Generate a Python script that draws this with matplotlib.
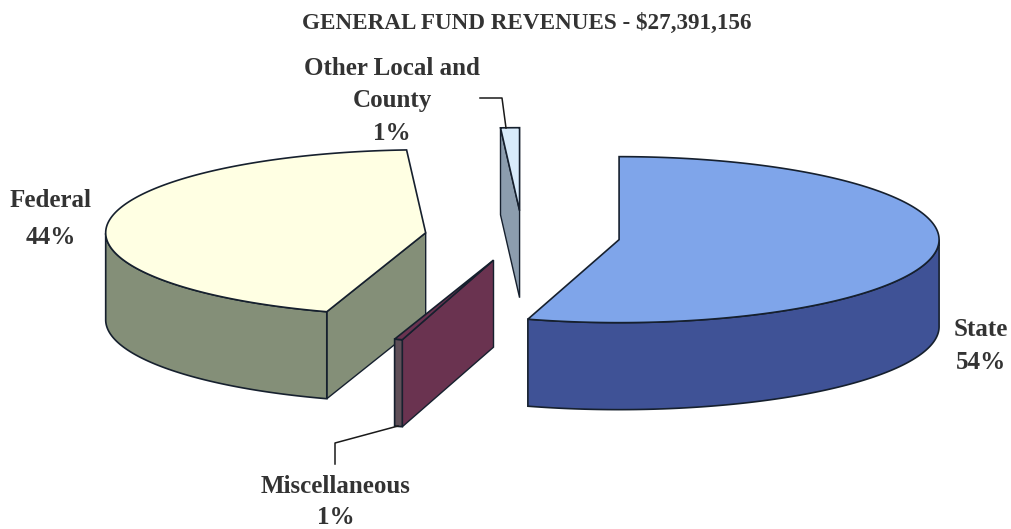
import numpy as np
import matplotlib.pyplot as plt
from matplotlib.patches import Polygon

plt.rcParams['font.family'] = ['Liberation Serif', 'DejaVu Serif']

# slices, clockwise from the top. shares estimated, labels as printed
names = ['State', 'Miscellaneous', 'Federal', 'Other Local and County']
shares = [54.6, 0.4, 44.05, 0.95]
pct_labels = ['54%', '1%', '44%', '1%']

top_colors = ['#7fa5ea', '#6a3350', '#ffffe3', '#d8ebfb']
wall_colors = ['#3f5296', '#5f4f58', '#848f78', '#8c9dae']
side_colors = ['#3f5296', '#6a3350', '#848f78', '#8c9dae']

# pie geometry in pixels
cx, cy = 522.5, 236
rx, ry = 320, 83
depth = 87
explode = 0.305
edge = '#16202e'


def ell(t, x0, y0):
    return np.column_stack([x0 + rx * np.cos(t), y0 - ry * np.sin(t)])


def draw_slice(ax, t1, t2, top, wall, side):
    # t1 > t2, radians, going clockwise
    mid = (t1 + t2) / 2
    x0 = cx + explode * rx * np.cos(mid)
    y0 = cy - explode * ry * np.sin(mid)
    down = np.array([0, depth])
    apex = np.array([[x0, y0]])
    ts = np.linspace(t1, t2, 300)

    # flat cut faces that look towards the viewer
    for t, show in [(t2, np.cos(t2) > 0.01), (t1, np.cos(t1) < -0.01)]:
        if show:
            p = ell(np.array([t]), x0, y0)
            face = np.vstack([apex, p, p + down, apex + down])
            ax.add_patch(Polygon(face, fc=side, ec=edge, lw=1.0))
    # outer wall, only the part on the front half
    front = ts[np.sin(ts) < 0]
    if len(front) > 1:
        arc = ell(front, x0, y0)
        ax.add_patch(Polygon(np.vstack([arc, arc[::-1] + down]), fc=wall, ec=edge, lw=1.2))
    ax.add_patch(Polygon(np.vstack([apex, ell(ts, x0, y0)]), fc=top, ec=edge, lw=1.2))


fig = plt.figure(figsize=(10.11, 5.29), dpi=100)
ax = fig.add_axes([0, 0, 1, 1])
ax.set_xlim(0, 1011)
ax.set_ylim(529, 0)
ax.axis('off')

ends = np.pi / 2 - np.cumsum(shares) / 100 * 2 * np.pi
starts = np.concatenate([[np.pi / 2], ends[:-1]])

# back slices first so the front ones sit on top
for i in [3, 2, 1, 0]:
    draw_slice(ax, starts[i], ends[i], top_colors[i], wall_colors[i], side_colors[i])

# leader lines
ax.plot([480, 502, 506], [98, 98, 128], color='#1a1a1a', lw=1.1)
ax.plot([335, 335, 398], [464, 443, 426], color='#1a1a1a', lw=1.1)

txt = dict(ha='center', va='center', color='#333333', fontweight='bold', fontsize=18)
ax.text(527, 23, 'GENERAL FUND REVENUES - $27,391,156', ha='center', va='center',
        color='#333333', fontweight='bold', fontsize=16.7)
ax.text(51, 219, names[2] + '\n' + pct_labels[2], linespacing=1.8, **txt)
ax.text(981, 346, names[0] + '\n' + pct_labels[0], linespacing=1.55, **txt)
ax.text(336, 502, names[1] + '\n' + pct_labels[1], linespacing=1.4, **txt)
ax.text(392, 101, 'Other Local and\nCounty\n' + pct_labels[3], linespacing=1.55, **txt)

fig.savefig('out.png', dpi=100, facecolor='white')
